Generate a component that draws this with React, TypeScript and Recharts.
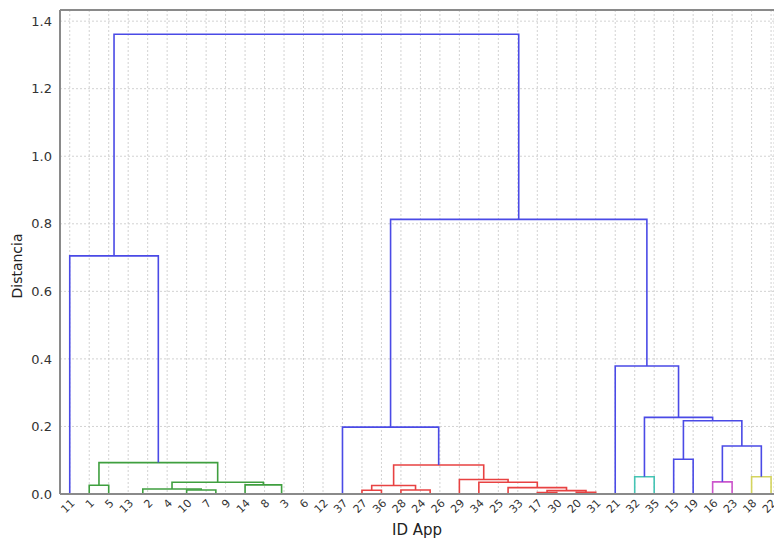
import { LineChart, Line, XAxis, YAxis, CartesianGrid, ReferenceLine } from "recharts";

// leaf order along the x axis
const LEAVES = [
  "11", "1", "5", "13", "2", "4", "10", "7", "9", "14", "8", "3", "6", "12",
  "37", "27", "36", "28", "24", "26", "29", "34", "25", "33", "17", "30", "20", "31",
  "21", "32", "35", "15", "19", "16", "23", "18", "22",
];

// merges: left, right (leaf label or cN), height, colour key
const LINKS: [string, string, number, string][] = [
  ["7", "9", 0.0, "g"], // c0
  ["10", "c0", 0.012, "g"], // c1
  ["2", "4", 0.0, "g"], // c2
  ["13", "c2", 0.0, "g"], // c3
  ["c3", "c1", 0.015, "g"], // c4
  ["6", "12", 0.0, "g"], // c5
  ["3", "c5", 0.0, "g"], // c6
  ["8", "c6", 0.0, "g"], // c7
  ["14", "c7", 0.027, "g"], // c8
  ["c4", "c8", 0.035, "g"], // c9
  ["1", "5", 0.026, "g"], // c10
  ["c10", "c9", 0.093, "g"], // c11
  ["11", "c11", 0.705, "b"], // c12
  ["27", "36", 0.011, "r"], // c13
  ["24", "26", 0.0, "r"], // c14
  ["28", "c14", 0.012, "r"], // c15
  ["c13", "c15", 0.025, "r"], // c16
  ["25", "33", 0.0, "r"], // c17
  ["17", "30", 0.004, "r"], // c18
  ["20", "31", 0.005, "r"], // c19
  ["c18", "c19", 0.01, "r"], // c20
  ["c17", "c20", 0.019, "r"], // c21
  ["34", "c21", 0.035, "r"], // c22
  ["29", "c22", 0.043, "r"], // c23
  ["c16", "c23", 0.086, "r"], // c24
  ["37", "c24", 0.198, "b"], // c25
  ["32", "35", 0.051, "c"], // c26
  ["15", "19", 0.103, "b"], // c27
  ["16", "23", 0.036, "m"], // c28
  ["18", "22", 0.051, "y"], // c29
  ["c28", "c29", 0.142, "b"], // c30
  ["c27", "c30", 0.217, "b"], // c31
  ["c26", "c31", 0.227, "b"], // c32
  ["21", "c32", 0.379, "b"], // c33
  ["c25", "c33", 0.813, "b"], // c34
  ["c12", "c34", 1.361, "b"], // c35
];

const Y_TICKS = [0, 0.2, 0.4, 0.6, 0.8, 1.0, 1.2, 1.4];

const COLORS: Record<string, string> = {
  b: "#4a4ae6",
  g: "#3f9f3f",
  r: "#e84242",
  c: "#45c4b4",
  m: "#cc55cc",
  y: "#d4d45e",
};

const Y_MAX = 1.433;
const X_MAX = 366.5;

function buildLinks() {
  const nodes: Record<string, { x: number; y: number }> = {};
  LEAVES.forEach((l, i) => {
    nodes[l] = { x: 5 + 10 * i, y: 0 };
  });
  return LINKS.map(([a, b, h, c], i) => {
    const na = nodes[a];
    const nb = nodes[b];
    nodes[`c${i}`] = { x: (na.x + nb.x) / 2, y: h };
    return {
      key: `c${i}`,
      color: COLORS[c],
      points: [
        { x: na.x, y: na.y },
        { x: na.x, y: h },
        { x: nb.x, y: h },
        { x: nb.x, y: nb.y },
      ],
    };
  });
}

const LeafTick = (props: any) => {
  const { x, y, payload } = props;
  const label = LEAVES[Math.round((payload.value - 5) / 10)];
  return (
    <g transform={`translate(${x + 3},${y + 5})`}>
      <text
        textAnchor="end"
        transform="rotate(-45)"
        dy="0.35em"
        fontSize={11}
        fill="#333"
        fontFamily="DejaVu Sans, sans-serif"
      >
        {label}
      </text>
    </g>
  );
};

export default function App() {
  const links = buildLinks();
  const xTicks = LEAVES.map((_, i) => 5 + 10 * i);

  return (
    <div
      style={{
        position: "absolute",
        left: 0,
        top: 0,
        width: 774,
        height: 538,
        overflow: "hidden",
        background: "#fff",
        fontFamily: "DejaVu Sans, sans-serif",
      }}
    >
      <LineChart width={774} height={538} margin={{ top: 10, right: 0, bottom: 0, left: 0 }}>
        <CartesianGrid stroke="#d2d2d2" strokeDasharray="2 2" />
        <XAxis
          type="number"
          dataKey="x"
          domain={[0, X_MAX]}
          ticks={xTicks}
          interval={0}
          height={44}
          tick={<LeafTick />}
          tickSize={0}
          tickMargin={2}
          axisLine={{ stroke: "#8a8a8a", strokeWidth: 2 }}
          allowDataOverflow
        />
        <YAxis
          type="number"
          domain={[0, Y_MAX]}
          ticks={Y_TICKS}
          width={60}
          tickSize={0}
          tickMargin={8}
          tickFormatter={(v: number) => v.toFixed(1)}
          tick={{ fill: "#333", fontSize: 13, fontFamily: "DejaVu Sans, sans-serif" }}
          axisLine={{ stroke: "#8a8a8a", strokeWidth: 2 }}
          allowDataOverflow
        />
        <ReferenceLine y={Y_MAX} stroke="#8a8a8a" strokeWidth={2} />
        {links.map((l) => (
          <Line
            key={l.key}
            data={l.points}
            dataKey="y"
            type="linear"
            stroke={l.color}
            strokeWidth={1.6}
            dot={false}
            activeDot={false}
            isAnimationActive={false}
          />
        ))}
      </LineChart>
      <div
        style={{
          position: "absolute",
          left: 8,
          top: 266,
          transform: "translate(-50%, -50%) rotate(-90deg)",
          transformOrigin: "center",
          fontSize: 14,
          color: "#222",
          whiteSpace: "nowrap",
          marginLeft: 9,
        }}
      >
        Distancia
      </div>
      <div
        style={{
          position: "absolute",
          left: 417,
          top: 521,
          transform: "translateX(-50%)",
          fontSize: 15,
          color: "#222",
          whiteSpace: "nowrap",
        }}
      >
        ID App
      </div>
    </div>
  );
}
